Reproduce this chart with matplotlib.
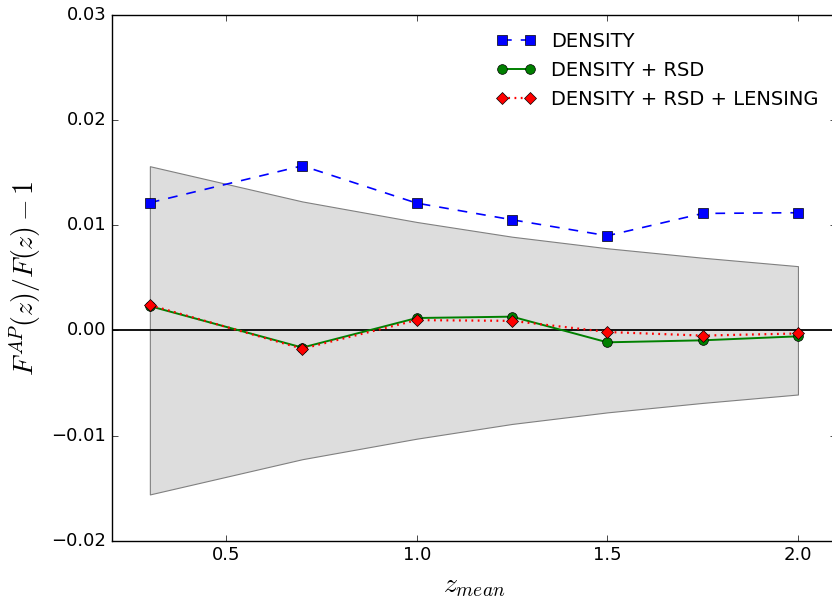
import matplotlib
matplotlib.use("Agg")
import matplotlib.pyplot as plt
import numpy as np

plt.style.use("classic")

# redshift bins
z_mean = [0.3, 0.7, 1.0, 1.25, 1.5, 1.75, 2.0]

# relative AP-parameter shifts
density = [0.01213, 0.01564, 0.01209, 0.01051, 0.00899, 0.01111, 0.01118]
density_rsd = [0.0023, -0.00164, 0.00117, 0.0013, -0.00114, -0.00095, -0.00057]
density_rsd_lensing = [0.0024, -0.00175, 0.00097, 0.0009, -0.00016, -0.0005, -0.0003]

# 1-sigma error band
sigma = [0.0156, 0.01225, 0.0103, 0.0089, 0.0078, 0.0069, 0.0061]

fig = plt.figure(figsize=(8.32, 6.01), dpi=100, facecolor="white")
ax = fig.add_axes([0.1343, 0.1003, 0.8706, 0.8752])

sig = np.array(sigma)
ax.fill_between(z_mean, -sig, sig, facecolor="#dddddd", edgecolor="#808080",
                linewidth=0.8)
ax.axhline(0.0, color="black", linewidth=1.3)

ax.plot(z_mean, density, "b--", marker="s", markersize=7, linewidth=1.2,
        dashes=(7, 6.5), label="DENSITY")
ax.plot(z_mean, density_rsd, "g-", marker="o", markersize=7, linewidth=1.4,
        label="DENSITY + RSD")
ax.plot(z_mean, density_rsd_lensing, "r:", marker="D", markersize=6,
        linewidth=1.6, dashes=(1.3, 3.2), label="DENSITY + RSD + LENSING")

ax.set_xlim(0.2, 2.1)
ax.set_ylim(-0.02, 0.03)
ax.set_xticks([0.5, 1.0, 1.5, 2.0])
ax.set_yticks([-0.02, -0.01, 0.0, 0.01, 0.02, 0.03])
ax.set_yticklabels(["\u22120.02", "\u22120.01", "0.00", "0.01", "0.02", "0.03"])
ax.tick_params(labelsize=13)

ax.set_xlabel(r"$z_{mean}$", fontsize=20)
ax.set_ylabel(r"$F^{AP}(z)/F(z)-1$", fontsize=20, labelpad=6)

ax.legend(loc="upper right", frameon=False, numpoints=2, fontsize=14)

fig.savefig("out.png", dpi=100, facecolor="white")
